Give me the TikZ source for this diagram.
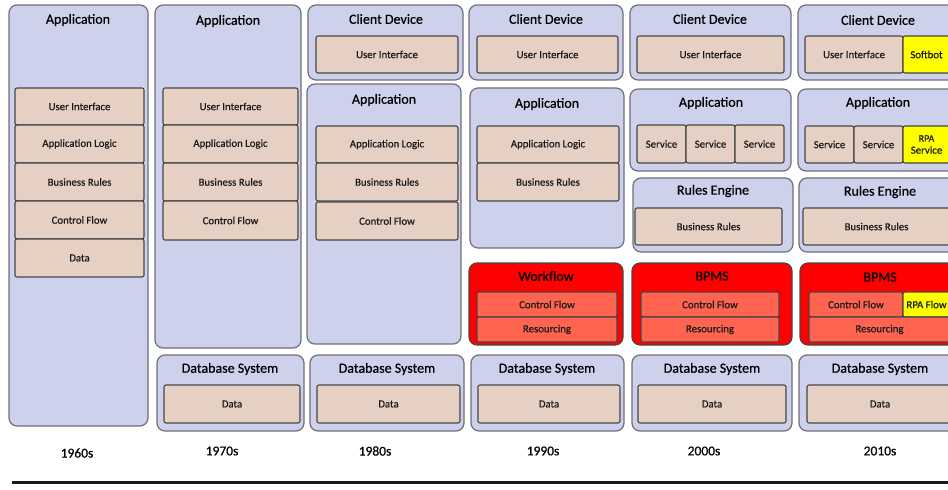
\documentclass[tikz,border=0pt]{standalone}
\usepackage{fontspec}
\setmainfont{Carlito}
\definecolor{outerfill}{RGB}{205,209,236}
\definecolor{outerdraw}{RGB}{110,110,120}
\definecolor{innerfill}{RGB}{230,208,196}
\definecolor{innerdraw}{RGB}{70,70,70}
\definecolor{redfill}{RGB}{255,0,0}
\definecolor{redinner}{RGB}{255,100,80}
\definecolor{yel}{RGB}{255,255,0}
\newcommand\mkbox[7]{\node[#2, minimum width={(#5-#3)*1pt}, minimum height={(#6-#4)*1pt}, anchor=north west] (#1) at (#3,#4) {#7};}
\tikzset{
  outer/.style={draw=outerdraw, fill=outerfill, rounded corners=8pt, line width=1.2pt, inner sep=0pt, outer sep=0pt},
  redbox/.style={outer, fill=redfill, draw=innerdraw},
  inner/.style={draw=innerdraw, fill=innerfill, rounded corners=2pt, line width=1.1pt, inner sep=0pt, outer sep=0pt, text=black!90, font=\addfontfeature{FakeBold=0.4}\fontsize{10.8}{12}\selectfont, align=center},
  redin/.style={inner, fill=redinner},
  yelin/.style={inner, fill=yel},
  ttl/.style={font=\addfontfeature{FakeBold=0.6}\fontsize{14}{16}\selectfont, inner sep=0pt, text=black},
  yr/.style={font=\addfontfeature{FakeBold=0.6}\fontsize{13.5}{15}\selectfont, inner sep=0pt, text=black},
}
\begin{document}
\begin{tikzpicture}[x=1pt,y=-1pt]
\useasboundingbox (0,0) rectangle (948,490);
\clip (0,0) rectangle (948,490);
% 1960s
\mkbox{a60}{outer}{9}{5}{148}{426}{}
\node[ttl] (a60t) at (78,20) {Application};
\mkbox{a60ui}{inner}{15}{88}{144}{125}{User Interface}
\mkbox{a60al}{inner}{15}{125}{144}{163}{Application Logic}
\mkbox{a60br}{inner}{15}{163}{144}{201}{Business Rules}
\mkbox{a60cf}{inner}{15}{201}{144}{239}{Control Flow}
\mkbox{a60d}{inner}{15}{239}{144}{277}{Data}
% 1970s
\mkbox{a70}{outer}{155}{5}{301}{348}{}
\node[ttl] (a70t) at (228,21) {Application};
\mkbox{a70ui}{inner}{163}{88}{298}{125}{User Interface}
\mkbox{a70al}{inner}{163}{125}{298}{163}{Application Logic}
\mkbox{a70br}{inner}{163}{163}{298}{201}{Business Rules}
\mkbox{a70cf}{inner}{163}{201}{298}{240}{Control Flow}
\mkbox{d70}{outer}{157}{355}{304}{431}{}
\node[ttl] (d70t) at (230,369) {Database System};
\mkbox{d70d}{inner}{164}{385}{300}{423}{Data}
% 1980s
\mkbox{c80}{outer}{308}{5}{463}{80}{}
\node[ttl] (c80t) at (386,19) {Client Device};
\mkbox{c80ui}{inner}{316}{36}{458}{73}{User Interface}
\mkbox{a80}{outer}{307}{84}{461}{344}{}
\node[ttl] (a80t) at (384,100) {Application};
\mkbox{a80al}{inner}{316}{126}{458}{163}{Application Logic}
\mkbox{a80br}{inner}{316}{163}{458}{201}{Business Rules}
\mkbox{a80cf}{inner}{316}{202}{458}{240}{Control Flow}
\mkbox{d80}{outer}{310}{355}{464}{431}{}
\node[ttl] (d80t) at (387,369) {Database System};
\mkbox{d80d}{inner}{317}{385}{460}{423}{Data}
% 1990s
\mkbox{c90}{outer}{469}{5}{623}{80}{}
\node[ttl] (c90t) at (546,19) {Client Device};
\mkbox{c90ui}{inner}{477}{36}{618}{73}{User Interface}
\mkbox{a90}{outer}{470}{88}{624}{248}{}
\node[ttl] (a90t) at (547,104) {Application};
\mkbox{a90al}{inner}{477}{126}{619}{163}{Application Logic}
\mkbox{a90br}{inner}{477}{163}{619}{201}{Business Rules}
\mkbox{w90}{redbox}{469}{263}{623}{345}{}
\node[ttl] (w90t) at (546,276) {Workflow};
\mkbox{w90cf}{redin}{477}{292}{617}{317}{Control Flow}
\mkbox{w90rs}{redin}{477}{317}{617}{342}{Resourcing}
\mkbox{d90}{outer}{471}{355}{624}{431}{}
\node[ttl] (d90t) at (547,369) {Database System};
\mkbox{d90d}{inner}{478}{385}{620}{423}{Data}
% 2000s
\mkbox{c00}{outer}{630}{5}{791}{80}{}
\node[ttl] (c00t) at (710,19) {Client Device};
\mkbox{c00ui}{inner}{637}{36}{784}{73}{User Interface}
\mkbox{a00}{outer}{630}{89}{791}{171}{}
\node[ttl] (a00t) at (711,103) {Application};
\mkbox{a00s1}{inner}{637}{125}{686}{163}{Service}
\mkbox{a00s2}{inner}{686}{125}{735}{163}{Service}
\mkbox{a00s3}{inner}{735}{125}{784}{163}{Service}
\mkbox{r00}{outer}{633}{178}{793}{252}{}
\node[ttl] (r00t) at (713,191) {Rules Engine};
\mkbox{r00br}{inner}{635}{208}{782}{245}{Business Rules}
\mkbox{b00}{redbox}{632}{263}{792}{345}{}
\node[ttl] (b00t) at (712,276) {BPMS};
\mkbox{b00cf}{redin}{641}{292}{779}{317}{Control Flow}
\mkbox{b00rs}{redin}{641}{317}{779}{342}{Resourcing}
\mkbox{d00}{outer}{632}{355}{792}{431}{}
\node[ttl] (d00t) at (712,369) {Database System};
\mkbox{d00d}{inner}{638}{385}{786}{423}{Data}
% 2010s
\mkbox{c10}{outer}{798}{5}{958}{80}{}
\node[ttl] (c10t) at (878,20) {Client Device};
\mkbox{c10ui}{inner}{805}{36}{903}{73}{User Interface}
\mkbox{c10sb}{yelin}{903}{36}{950}{73}{Softbot}
\mkbox{a10}{outer}{798}{89}{958}{171}{}
\node[ttl] (a10t) at (878,103) {Application};
\mkbox{a10s1}{inner}{805}{126}{854}{163}{Service}
\mkbox{a10s2}{inner}{854}{126}{903}{163}{Service}
\mkbox{a10s3}{yelin}{903}{126}{950}{163}{\fontsize{10}{12}\selectfont RPA\\Service}
\mkbox{r10}{outer}{799}{178}{960}{252}{}
\node[ttl] (r10t) at (880,192) {Rules Engine};
\mkbox{r10br}{inner}{803}{208}{950}{245}{Business Rules}
\mkbox{b10}{redbox}{800}{263}{960}{345}{}
\node[ttl] (b10t) at (880,277) {BPMS};
\mkbox{b10cf}{redin}{809}{292}{903}{317}{Control Flow}
\mkbox{b10rf}{yelin}{903}{292}{950}{317}{RPA Flow}
\mkbox{b10rs}{redin}{809}{317}{950}{342}{Resourcing}
\mkbox{d10}{outer}{799}{355}{961}{431}{}
\node[ttl] (d10t) at (880,369) {Database System};
\mkbox{d10d}{inner}{807}{385}{953}{423}{Data}
% years
\node[yr] (y60) at (77,453) {1960s};
\node[yr] (y70) at (222,451) {1970s};
\node[yr] (y80) at (375,451) {1980s};
\node[yr] (y90) at (543,451) {1990s};
\node[yr] (y00) at (704,451) {2000s};
\node[yr] (y10) at (880,451) {2010s};
\coordinate (ls) at (12,482);
\coordinate (le) at (960,482);
\draw[line width=3pt, black!90] (ls) -- (le);
\end{tikzpicture}
\end{document}
